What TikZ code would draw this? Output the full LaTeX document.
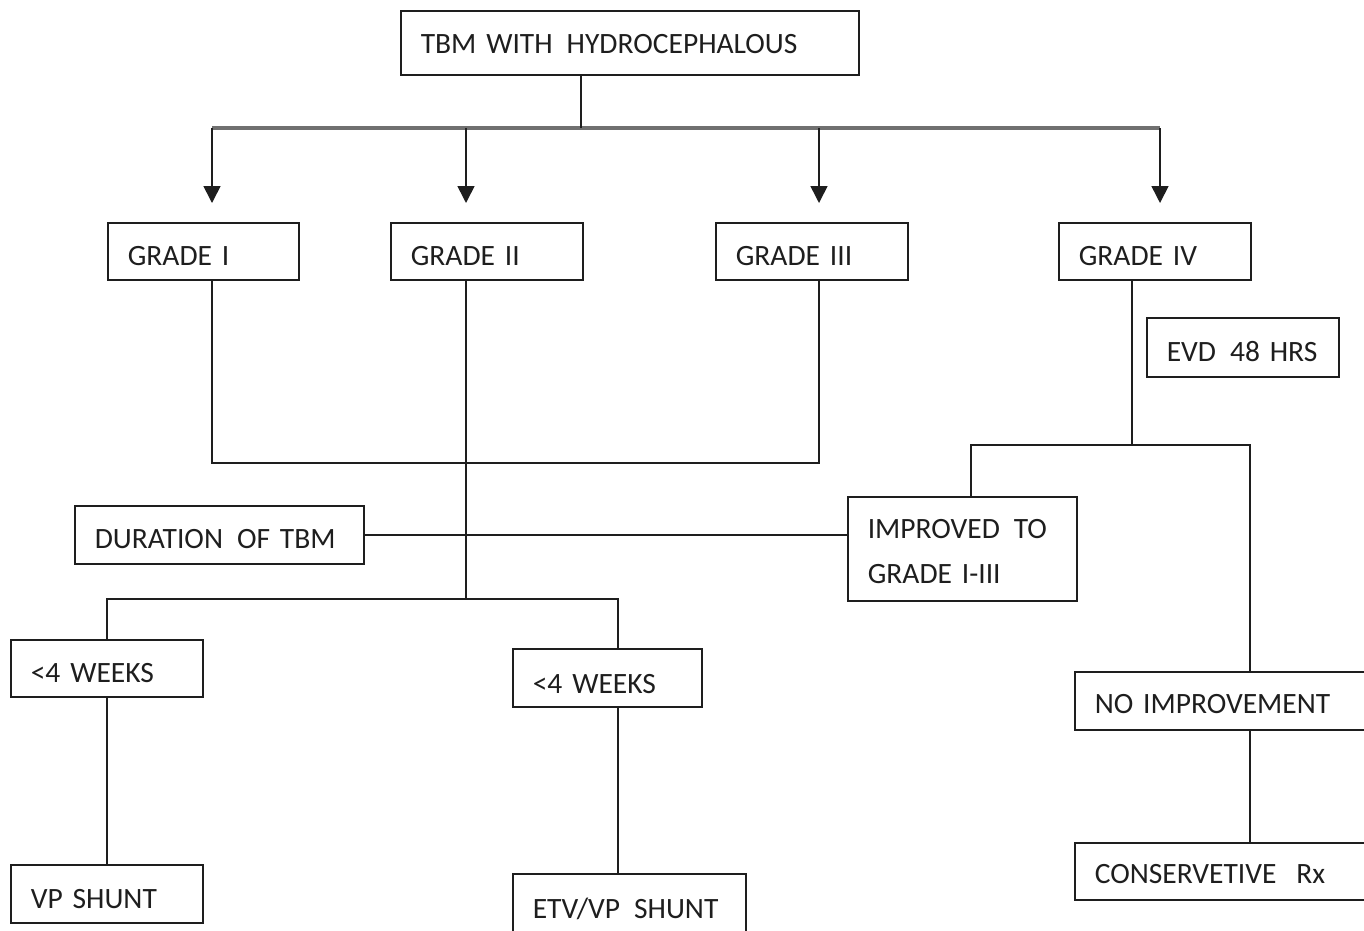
\documentclass[tikz,border=0pt]{standalone}
\usepackage{fontspec}
\setmainfont{Carlito}
\usetikzlibrary{arrows.meta}
\newcommand{\boxtext}{\fontsize{29.5pt}{45pt}\selectfont\spaceskip=6.8pt\xspaceskip=6.8pt\relax}
\newcommand{\dsp}{\hspace*{14pt}}
\definecolor{ink}{HTML}{1E1E1E}
\definecolor{busgray}{HTML}{707070}
\tikzset{
  box/.style={draw=ink, line width=1.6pt, rectangle, anchor=north west,
    inner xsep=20pt, inner ysep=0pt, text height=28pt, text depth=0pt,
    align=left, font=\boxtext, text=ink},
  conn/.style={draw=ink, line width=1.6pt},
  busline/.style={draw=busgray, line width=3.4pt},
  arr/.style={draw=ink, line width=1.6pt, -{Triangle[width=17pt,length=17pt]}, shorten >=19pt}
}
\begin{document}
\begin{tikzpicture}[x=1pt,y=-1pt]
\useasboundingbox (0,0) rectangle (1364,930);
\clip (0,0) rectangle (1364,930);

% nodes
\node[box, text width=418pt, minimum height=64pt, text height=22pt] (tbm) at (400,10) {TBM WITH\dsp HYDROCEPHALOUS};
\node[box, text width=151pt, minimum height=57pt] (g1) at (107,222) {GRADE I};
\node[box, text width=152pt, minimum height=57pt] (g2) at (390,222) {GRADE II};
\node[box, text width=152pt, minimum height=57pt] (g3) at (715,222) {GRADE III};
\node[box, text width=152pt, minimum height=57pt] (g4) at (1058,222) {GRADE IV};
\node[box, text width=152pt, minimum height=59pt, text height=29pt] (evd) at (1146,317) {EVD\dsp 48 HRS};
\node[box, text width=249pt, minimum height=58pt] (dur) at (74,505) {DURATION\dsp OF TBM};
\node[box, text width=189pt, minimum height=104pt, text height=25pt, text depth=45pt] (imp) at (847,496) {IMPROVED\dsp TO\\GRADE I-III};
\node[box, text width=152pt, minimum height=57pt] (w1) at (10,639) {<4 WEEKS};
\node[box, text width=152pt, minimum height=58pt, text height=30pt] (vp) at (10,864) {VP SHUNT};
\node[box, text width=149pt, minimum height=58pt, text height=31pt] (w2) at (512,648) {<4 WEEKS};
\node[box, text width=193pt, minimum height=58pt, text height=31pt] (etv) at (512,873) {ETV/VP\dsp SHUNT};
\node[box, text width=252pt, minimum height=58pt, text height=26pt] (noimp) at (1074,671) {NO IMPROVEMENT};
\node[box, text width=252pt, minimum height=57pt, text height=25pt] (cons) at (1074,842) {CONSERVETIVE\hspace*{20pt}Rx};

% coordinates
\coordinate (bus) at (581,128);
\coordinate (busL) at (212,128);
\coordinate (busR) at (1160,128);
\coordinate (b2) at (466,128);
\coordinate (b3) at (819,128);
\coordinate (j1) at (212,463);
\coordinate (j3) at (819,463);
\coordinate (j2) at (466,599);
\coordinate (k1) at (107,599);
\coordinate (k2) at (618,599);
\coordinate (m) at (1132,445);
\coordinate (mL) at (971,445);
\coordinate (mR) at (1250,445);

% connectors
\draw[busline] (busL) -- (busR);
\draw[conn] (tbm.south -| bus) -- (bus);
\draw[arr] (busL) -- (busL |- g1.north);
\draw[arr] (b2) -- (b2 |- g2.north);
\draw[arr] (b3) -- (b3 |- g3.north);
\draw[arr] (busR) -- (busR |- g4.north);

\draw[conn] (g1.south -| j1) -- (j1) -- (j3) -- (g3.south -| j3);
\draw[conn] (g2.south -| j2) -- (j2);
\draw[conn] (dur.east) -- (dur.east -| imp.west);
\draw[conn] (w1.north -| k1) -- (k1) -- (k2) -- (w2.north -| k2);
\draw[conn] (w1.south -| k1) -- (vp.north -| k1);
\draw[conn] (w2.south -| k2) -- (etv.north -| k2);
\draw[conn] (g4.south -| m) -- (m);
\draw[conn] (imp.north -| mL) -- (mL) -- (mR) -- (noimp.north -| mR);
\draw[conn] (noimp.south -| mR) -- (cons.north -| mR);
\end{tikzpicture}
\end{document}
